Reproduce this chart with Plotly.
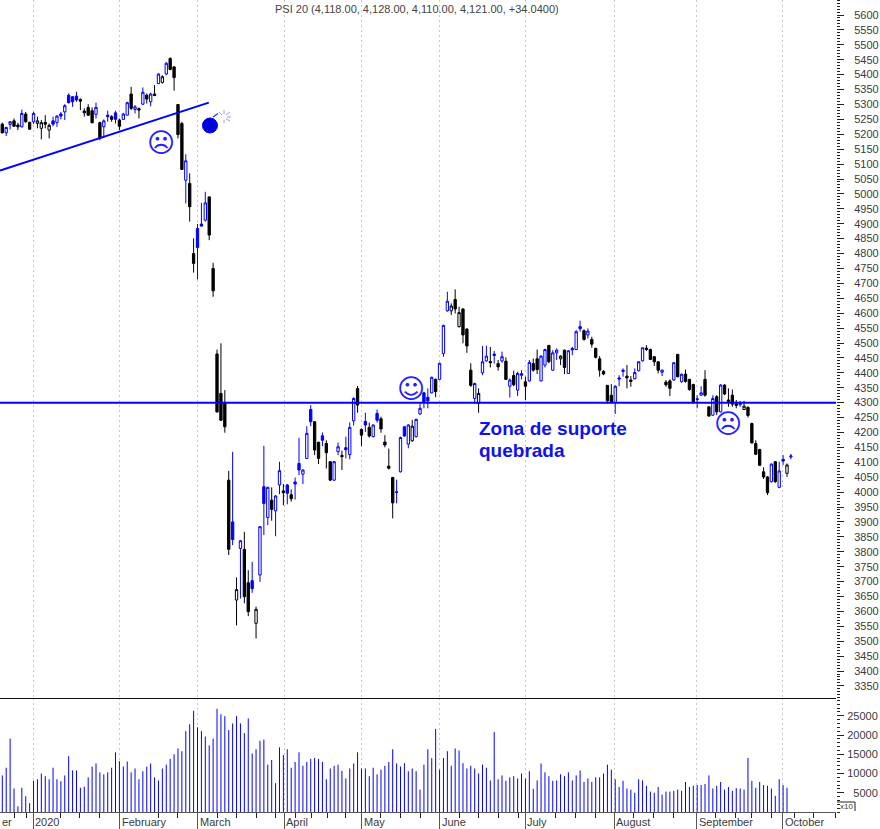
import plotly.graph_objects as go

W, H = 880, 829

# k = black (down on previous close), b = blue (up on previous close)
kinds = (
    "k b b k k b k k b k k k k b b b b b b b "
    "k k k k b k b b k b k b b k b k b k b k "
    "b k b k k k k b k k b b b k k k k k k b "
    "k b k k b k b b b k b b k b k b b b b b "
    "k k b k k b b k b b b k k b k b b k k k "
    "k b b b b k b b b b b k b b b k k k k k "
    "k b k b b k b k b k b k b b k b k k b b "
    "k b b k k b b b b k b k k k k k k b b b "
    "k k b b b k k k k b k k b k b k k k b b "
    "k k b k b k k k k b k k k k k k k b k b "
    "b k b"
).split()

opens = [5234,5205,5233,5245,5231,5225,5268,5240,5242,5236,5220,5240,5214,5245,5240,5268,5275,5331,5326,5328,
         5317,5278,5290,5279,5267,5239,5225,5264,5259,5272,5248,5250,5264,5335,5283,5286,5301,5331,5309,5335,
         5370,5374,5402,5454,5426,5300,5236,5046,5035,4800,4884,4899,4912,4990,4750,4463,4331,4297,4040,3900,
         3638,3811,3808,3696,3703,3560,3722,4018,3915,3973,3937,4024,4004,4024,3991,4034,4096,4060,4113,4277,
         4236,4167,4189,4163,4102,4040,4136,4123,4149,4126,4239,4347,4210,4237,4217,4186,4264,4246,4168,4087,
         4049,4001,4068,4219,4161,4172,4186,4262,4333,4318,4333,4378,4378,4465,4608,4608,4646,4555,4614,4547,
         4409,4314,4297,4400,4440,4438,4463,4431,4440,4439,4355,4391,4342,4397,4370,4373,4431,4447,4373,4426,
         4492,4409,4467,4447,4476,4398,4482,4478,4555,4541,4527,4512,4482,4447,4405,4358,4325,4300,4383,4409,
         4389,4376,4380,4407,4440,4483,4478,4454,4437,4402,4369,4373,4376,4462,4370,4396,4378,4361,4313,4325,
         4378,4286,4258,4320,4269,4359,4309,4325,4295,4293,4277,4284,4230,4163,4143,4068,4051,4035,4102,4016,
         4110,4063,4118]
closes = [5205,5223,5242,5227,5225,5270,5242,5217,5270,5245,5239,5234,5230,5234,5261,5261,5296,5306,5309,5315,
          5311,5272,5264,5239,5290,5186,5245,5259,5250,5250,5227,5268,5306,5287,5292,5281,5341,5318,5335,5330,
          5402,5393,5438,5417,5390,5199,5082,5111,4957,4767,4820,4892,4970,4862,4675,4269,4241,4219,3808,3841,
          3673,3837,3649,3599,3676,3607,3884,3962,4016,3942,3987,4072,3998,3996,3978,4027,4074,4074,4197,4236,
          4141,4113,4174,4132,4040,4102,4152,4119,4142,4217,4314,4292,4191,4225,4188,4225,4241,4212,4158,4080,
          3964,3999,4183,4188,4225,4221,4244,4281,4300,4306,4385,4337,4432,4559,4640,4624,4614,4602,4527,4490,
          4358,4364,4331,4437,4456,4434,4458,4420,4454,4378,4376,4360,4398,4392,4355,4435,4409,4411,4456,4478,
          4437,4467,4476,4456,4418,4474,4477,4538,4548,4512,4540,4496,4452,4409,4396,4306,4303,4355,4379,4405,
          4383,4371,4401,4437,4484,4478,4445,4437,4409,4409,4360,4348,4434,4387,4395,4371,4344,4300,4311,4333,
          4325,4255,4314,4269,4359,4329,4303,4295,4291,4297,4288,4257,4165,4127,4090,4051,3998,4094,4035,4071,
          4104,4091,4121]
highs = [5239,5225,5244,5253,5239,5283,5275,5242,5275,5259,5248,5264,5236,5259,5264,5275,5301,5337,5328,5343,
         5320,5287,5301,5290,5306,5242,5250,5279,5264,5279,5253,5272,5309,5359,5298,5290,5357,5337,5339,5365,
         5404,5398,5443,5458,5429,5301,5242,5133,5069,4851,4899,4970,5007,4990,4769,4478,4499,4342,4071,4135,
         3714,3839,3867,3738,3766,3616,3886,4155,4018,4016,3990,4102,4027,4027,4009,4049,4182,4076,4221,4292,
         4238,4169,4200,4174,4104,4104,4166,4139,4186,4234,4318,4356,4214,4266,4233,4227,4277,4253,4191,4146,
         4051,4042,4186,4222,4228,4242,4246,4297,4336,4348,4387,4381,4434,4561,4672,4633,4680,4622,4616,4549,
         4432,4367,4348,4490,4491,4487,4473,4443,4471,4452,4381,4407,4404,4409,4387,4443,4448,4478,4459,4481,
         4493,4476,4482,4459,4478,4476,4487,4543,4575,4546,4549,4521,4484,4456,4409,4359,4362,4358,4392,4415,
         4426,4389,4415,4439,4485,4493,4481,4456,4439,4411,4376,4378,4436,4463,4398,4411,4380,4363,4325,4355,
         4409,4288,4325,4325,4362,4362,4348,4344,4309,4306,4306,4288,4233,4174,4145,4083,4054,4096,4104,4102,
         4124,4096,4128]
lows = [5203,5194,5216,5225,5214,5223,5239,5216,5234,5220,5183,5220,5186,5227,5225,5250,5248,5303,5292,5309,
        5281,5259,5261,5236,5253,5180,5189,5242,5242,5236,5214,5248,5264,5281,5270,5253,5298,5303,5294,5328,
        5368,5370,5398,5415,5346,5186,5080,4968,4907,4736,4713,4890,4907,4845,4655,4266,4239,4199,3789,3822,
        3553,3643,3627,3584,3662,3509,3699,3856,3889,3904,3852,3993,3956,3959,3968,3975,4057,4027,4111,4221,
        4124,4094,4154,4079,4038,4038,4124,4074,4113,4110,4223,4266,4154,4202,4183,4183,4233,4199,4150,4076,
        3912,3962,4066,4186,4147,4169,4183,4259,4281,4281,4331,4318,4376,4454,4605,4594,4599,4552,4499,4467,
        4353,4295,4266,4392,4437,4418,4431,4407,4434,4376,4317,4355,4322,4378,4309,4370,4404,4396,4371,4418,
        4432,4407,4443,4426,4396,4396,4459,4476,4538,4508,4515,4484,4448,4387,4392,4297,4300,4262,4355,4387,
        4348,4353,4378,4405,4438,4474,4443,4423,4398,4389,4353,4322,4373,4385,4367,4367,4340,4297,4281,4322,
        4320,4253,4256,4258,4267,4325,4286,4286,4281,4286,4275,4250,4163,4124,4088,4044,3990,4032,4031,4013,
        4091,4051,4110]

volumes = [9500,11500,19050,6100,1500,6300,4100,2300,8100,8500,10000,9300,8500,11500,8500,8000,9500,14500,10800,10800,
           6300,6600,9000,11800,12600,10300,9800,10300,11500,15500,13200,11800,13100,10300,11300,8500,10600,11800,12600,9000,
           8200,11300,12300,13800,15000,16500,15800,21000,22800,26300,22000,21000,19600,17300,19050,26800,25400,24900,21300,23000,
           24900,23000,20500,24300,15200,16300,18500,18800,12300,13500,7500,16800,14800,16300,11500,13000,15500,12000,13000,13800,
           14000,13800,13000,8500,11300,12000,12300,10700,8700,11300,12600,15500,11300,11300,9300,11500,9800,11000,12000,13000,
           16300,12600,11800,12700,10600,11300,10600,5800,12300,16300,14000,21600,11000,
           14000,15800,12000,16500,16000,12700,11300,12000,11300,10000,12300,11500,8200,20800,8500,9500,8100,9000,9300,8700,
           10000,8700,10600,6000,8200,12600,10300,9300,8100,8200,9800,9300,10300,8200,9500,10800,7800,8700,7800,9000,
           9000,10000,12300,11000,8500,6500,8100,6100,5800,5000,8500,8200,6800,5300,5000,6500,4500,5300,5300,5500,
           5800,5500,7800,6500,6800,7000,7000,7300,9500,6100,6800,7800,5800,6500,5500,6200,6100,5800,14000,8100,
           6300,7800,7000,6800,6100,4200,8500,7000,6300]

month_labels = ["2020", "February", "March", "April", "May", "June", "July", "August", "September", "October"]
month_pos = [7.9, 30.1, 50.1, 72.2, 92.1, 112.1, 133.9, 156.7, 177.9, 199.9]
week_pos = [3, 6.1, 15, 19.9, 24.8, 39.9, 45, 55.1, 60.1, 65, 70.1, 75, 79.1, 83.2, 88, 97, 102.1, 107.2,
            111.9, 117, 121.9, 127, 132.1, 141.8, 146.9, 152, 161.8, 166.7, 172, 182.8, 187.7, 192, 196.9,
            202.8, 207.7, 213.3]

support_level = 4300
trend_x = [-0.59, 52.9]
trend_y = [5078, 5306]

title_text = "PSI 20 (4,118.00, 4,128.00, 4,110.00, 4,121.00, +34.0400)"
note_lines = ["Zona de suporte", "quebrada"]
price_ticks = list(range(3350, 5601, 50))
volume_ticks = [5000, 10000, 15000, 20000, 25000]

BLUE = "#0000ff"
BLACK = "#000000"
GRID = "#c8c8c8"
TXT = "#3a3a3a"
FONT = "Liberation Sans"


def px(x):
    return x / W


def py(y):
    return 1 - y / H


fig = go.Figure()
n = min(len(opens), len(closes), len(highs), len(lows), len(kinds))
for col, hollow in [(BLACK, True), (BLACK, False), (BLUE, True), (BLUE, False)]:
    code = "k" if col == BLACK else "b"
    idx = [i for i in range(n) if kinds[i] == code and (closes[i] > opens[i]) == hollow]
    fill = "#ffffff" if hollow else col
    fig.add_trace(go.Candlestick(
        x=idx,
        open=[opens[i] for i in idx],
        high=[highs[i] for i in idx],
        low=[lows[i] for i in idx],
        close=[closes[i] for i in idx],
        increasing=dict(line=dict(color=col, width=1), fillcolor=fill),
        decreasing=dict(line=dict(color=col, width=1), fillcolor=fill),
        whiskerwidth=0,
        xaxis="x",
        yaxis="y",
        showlegend=False,
    ))

# volume spikes: one thin vertical stroke per session
vol_x, vol_y = [], []
for i, v in enumerate(volumes):
    vol_x += [i, i, None]
    vol_y += [0, v, None]
fig.add_trace(go.Scatter(
    x=vol_x,
    y=vol_y,
    mode="lines",
    line=dict(color=BLUE, width=1),
    xaxis="x2",
    yaxis="y2",
    showlegend=False,
    hoverinfo="skip",
))

xcommon = dict(
    range=[-0.59, 213.55],
    domain=[0, 836 / W],
    tickmode="array",
    tickvals=month_pos,
    showticklabels=False,
    showgrid=True,
    gridcolor=GRID,
    griddash="2px,3px",
    gridwidth=1,
    zeroline=False,
)

fig.update_layout(
    width=W,
    height=H,
    margin=dict(l=0, r=0, t=0, b=0),
    paper_bgcolor="white",
    plot_bgcolor="white",
    autosize=False,
    font=dict(family=FONT, size=11, color=TXT),
    boxgap=0.15,
    xaxis=dict(**xcommon, anchor="y", rangeslider=dict(visible=False), ticks=""),
    xaxis2=dict(**xcommon, anchor="y2", ticks="outside", ticklen=17, tickcolor="#555555", tickwidth=1,
                showline=True, linecolor="#555555", linewidth=1,
                minor=dict(tickmode="array", tickvals=week_pos, ticks="outside", ticklen=5,
                           tickcolor="#222222", tickwidth=1, showgrid=False)),
    yaxis=dict(
        domain=[py(698), 1], range=[3309.5, 5650.3], side="right", anchor="x",
        tickmode="array", tickvals=price_ticks, ticktext=[str(t) for t in price_ticks],
        ticks="outside", ticklen=7, tickcolor="#222222", tickwidth=1,
        ticklabelstandoff=8, tickfont=dict(family=FONT, size=11, color=TXT),
        showgrid=False, zeroline=False, showline=False,
        minor=dict(dtick=10, tick0=0, ticks="outside", ticklen=3, tickcolor="#222222", tickwidth=1, showgrid=False),
    ),
    yaxis2=dict(
        domain=[py(812), py(698)], range=[0, 29610], side="right", anchor="x2",
        tickmode="array", tickvals=volume_ticks,
        ticktext=["\u2007" + str(volume_ticks[0])] + [str(t) for t in volume_ticks[1:]],
        ticks="outside", ticklen=7, tickcolor="#222222", tickwidth=1,
        ticklabelstandoff=1, tickfont=dict(family=FONT, size=11, color=TXT),
        showgrid=False, zeroline=False, showline=False,
        minor=dict(dtick=1000, tick0=0, ticks="outside", ticklen=3, tickcolor="#222222", tickwidth=1, showgrid=False),
    ),
)

shapes = [
    dict(type="line", xref="paper", yref="y", x0=0, x1=836 / W, y0=support_level, y1=support_level,
         line=dict(color=BLUE, width=2)),
    dict(type="line", xref="x", yref="y", x0=trend_x[0], x1=trend_x[1], y0=trend_y[0], y1=trend_y[1],
         line=dict(color=BLUE, width=2)),
    dict(type="line", xref="paper", yref="paper", x0=0, x1=836 / W, y0=py(698.5), y1=py(698.5),
         line=dict(color="#111111", width=1)),
    # bomb
    dict(type="circle", xref="paper", yref="paper", x0=px(202.5), x1=px(217.5), y0=py(133), y1=py(118),
         fillcolor="#0000e0", line=dict(color="#0000e0", width=1)),
    dict(type="line", xref="paper", yref="paper", x0=px(213), x1=px(218), y0=py(117), y1=py(113.5),
         line=dict(color="#3030d0", width=1.2)),
    # x10 box
    dict(type="line", xref="paper", yref="paper", x0=px(837), x1=px(855), y0=py(802), y1=py(802),
         line=dict(color="#222222", width=1)),
    dict(type="line", xref="paper", yref="paper", x0=px(855), x1=px(855), y0=py(802), y1=py(811),
         line=dict(color="#222222", width=1)),
]
for dx0, dy0, dx1, dy1 in [(3, 0, 7, 0), (2, -2, 6, -5), (0, -3, 0, -7), (2, 2, 6, 4), (-2, -2, -5, -5), (0, 3, 0, 6)]:
    shapes.append(dict(type="line", xref="paper", yref="paper",
                       x0=px(224 + dx0), x1=px(224 + dx1), y0=py(117 + dy0), y1=py(117 + dy1),
                       line=dict(color="#9a9aff", width=1)))
fig.update_layout(shapes=shapes)

annotations = [
    dict(xref="paper", yref="paper", x=px(417), y=py(9), text=title_text, showarrow=False,
         font=dict(family=FONT, size=11, color="#444444"), xanchor="center", yanchor="middle"),
    dict(xref="paper", yref="paper", x=px(846.5), y=py(806.5), text="x10", showarrow=False,
         font=dict(family=FONT, size=8, color=TXT), xanchor="center", yanchor="middle"),
    dict(xref="paper", yref="paper", x=0, y=py(822), text="er", showarrow=False,
         font=dict(family=FONT, size=11, color=TXT), xanchor="left", yanchor="middle"),
]
for line, y in zip(note_lines, [428, 451]):
    annotations.append(dict(xref="paper", yref="paper", x=px(476.5), y=py(y), text=line, showarrow=False, align="left",
                            font=dict(family=FONT, size=19, color="#1010f0", weight="bold"),
                            xanchor="left", yanchor="middle"))
for label, pos in zip(month_labels, month_pos):
    annotations.append(dict(xref="x2", yref="paper", x=pos, y=py(822), text=label, showarrow=False, xshift=0,
                            font=dict(family=FONT, size=11, color=TXT), xanchor="left", yanchor="middle"))
for glyph, x, y in [("\u2639", 161, 142), ("\u2639", 727.5, 423), ("\u263a", 411, 388.5)]:
    annotations.append(dict(xref="paper", yref="paper", x=px(x), y=py(y), text=glyph, showarrow=False,
                            font=dict(family="DejaVu Sans", size=27, color="#2222ff"),
                            xanchor="center", yanchor="middle"))
fig.update_layout(annotations=annotations)

fig.write_html("out.html", post_script="document.body.style.margin='0';document.body.style.overflow='hidden';",
               config=dict(displayModeBar=False))
